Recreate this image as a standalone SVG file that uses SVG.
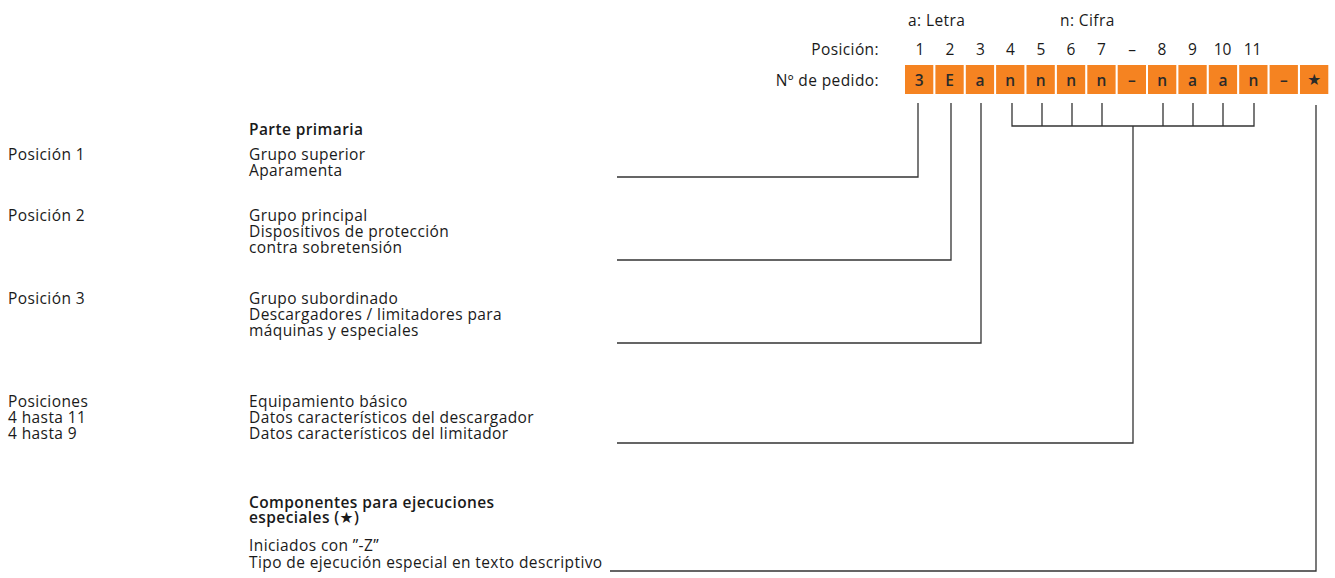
<svg xmlns="http://www.w3.org/2000/svg" width="1335" height="578" viewBox="0 0 1335 578">
<style>
text{font-family:"Open Sans","DejaVu Sans",sans-serif;font-size:15.5px;letter-spacing:0.4px;fill:#1a1a1a}
.b{font-weight:600}
.c{text-anchor:middle;letter-spacing:0}
.r{text-anchor:end}
.box{fill:#f58321}
.bl{font-weight:600;text-anchor:middle;fill:#2a2a2a;letter-spacing:0}
.ln{stroke:#333;stroke-width:1.3;fill:none}
</style>
<rect width="1335" height="578" fill="#fff"/>
<g id="header">
<text x="908" y="26">a: Letra</text>
<text x="1060" y="26">n: Cifra</text>
<text class="r" x="879" y="55">Posición:</text>
<text class="c" x="920" y="55">1</text>
<text class="c" x="950" y="55">2</text>
<text class="c" x="980.5" y="55">3</text>
<text class="c" x="1010.5" y="55">4</text>
<text class="c" x="1041" y="55">5</text>
<text class="c" x="1071" y="55">6</text>
<text class="c" x="1101.5" y="55">7</text>
<text class="c" x="1132" y="55">–</text>
<text class="c" x="1162" y="55">8</text>
<text class="c" x="1192.5" y="55">9</text>
<text class="c" x="1222.5" y="55">10</text>
<text class="c" x="1252.5" y="55">11</text>
<text class="r" x="879" y="86">Nº de pedido:</text>
</g>
<g id="order-number">
<rect class="box" x="905" y="65" width="28.3" height="29"/>
<rect class="box" x="935.4" y="65" width="28.3" height="29"/>
<rect class="box" x="965.8" y="65" width="28.3" height="29"/>
<rect class="box" x="996.1" y="65" width="28.3" height="29"/>
<rect class="box" x="1026.5" y="65" width="28.3" height="29"/>
<rect class="box" x="1056.9" y="65" width="28.3" height="29"/>
<rect class="box" x="1087.3" y="65" width="28.3" height="29"/>
<rect class="box" x="1117.7" y="65" width="28.3" height="29"/>
<rect class="box" x="1148" y="65" width="28.3" height="29"/>
<rect class="box" x="1178.4" y="65" width="28.3" height="29"/>
<rect class="box" x="1208.8" y="65" width="28.3" height="29"/>
<rect class="box" x="1239.2" y="65" width="28.3" height="29"/>
<rect class="box" x="1269.6" y="65" width="28.3" height="29"/>
<rect class="box" x="1300" y="65" width="28.3" height="29"/>
<text class="bl" x="919.2" y="86">3</text>
<text class="bl" x="949.6" y="86">E</text>
<text class="bl" x="980" y="86">a</text>
<text class="bl" x="1010.3" y="86">n</text>
<text class="bl" x="1040.7" y="86">n</text>
<text class="bl" x="1071.1" y="86">n</text>
<text class="bl" x="1101.5" y="86">n</text>
<text class="bl" x="1131.9" y="86">–</text>
<text class="bl" x="1162.2" y="86">n</text>
<text class="bl" x="1192.6" y="86">a</text>
<text class="bl" x="1223" y="86">a</text>
<text class="bl" x="1253.4" y="86">n</text>
<text class="bl" x="1283.8" y="86">–</text>
<text class="bl" x="1314.2" y="85">★</text>
</g>
<g id="pos1">
<text class="b" x="249" y="135">Parte primaria</text>
<text x="8" y="160">Posición 1</text>
<text x="249" y="160">Grupo superior</text>
<text x="249" y="176">Aparamenta</text>
</g>
<g id="pos2">
<text x="8" y="221">Posición 2</text>
<text x="249" y="221">Grupo principal</text>
<text x="249" y="237">Dispositivos de protección</text>
<text x="249" y="253">contra sobretensión</text>
</g>
<g id="pos3">
<text x="8" y="304">Posición 3</text>
<text x="249" y="304">Grupo subordinado</text>
<text x="249" y="320">Descargadores / limitadores para</text>
<text x="249" y="336">máquinas y especiales</text>
</g>
<g id="pos4">
<text x="8" y="407">Posiciones</text>
<text x="8" y="423">4 hasta 11</text>
<text x="8" y="439">4 hasta 9</text>
<text x="249" y="407">Equipamiento básico</text>
<text x="249" y="423">Datos característicos del descargador</text>
<text x="249" y="439">Datos característicos del limitador</text>
</g>
<g id="special">
<text class="b" x="249" y="508">Componentes para ejecuciones</text>
<text class="b" x="249" y="523">especiales (★)</text>
<text x="249" y="551">Iniciados con ”-Z”</text>
<text x="249" y="568">Tipo de ejecución especial en texto descriptivo</text>
</g>
<g id="connectors">
<path class="ln" d="M617 177H918V103"/>
<path class="ln" d="M617 260H951V103"/>
<path class="ln" d="M617 343H981V103"/>
<path class="ln" d="M617 443H1133V126"/>
<path class="ln" d="M1012 103V126H1254V103"/>
<path class="ln" d="M1042 103V126M1072 103V126M1102 103V126M1163 103V126M1193 103V126M1223 103V126"/>
<path class="ln" d="M610 571H1316V105"/>
</g>
</svg>
